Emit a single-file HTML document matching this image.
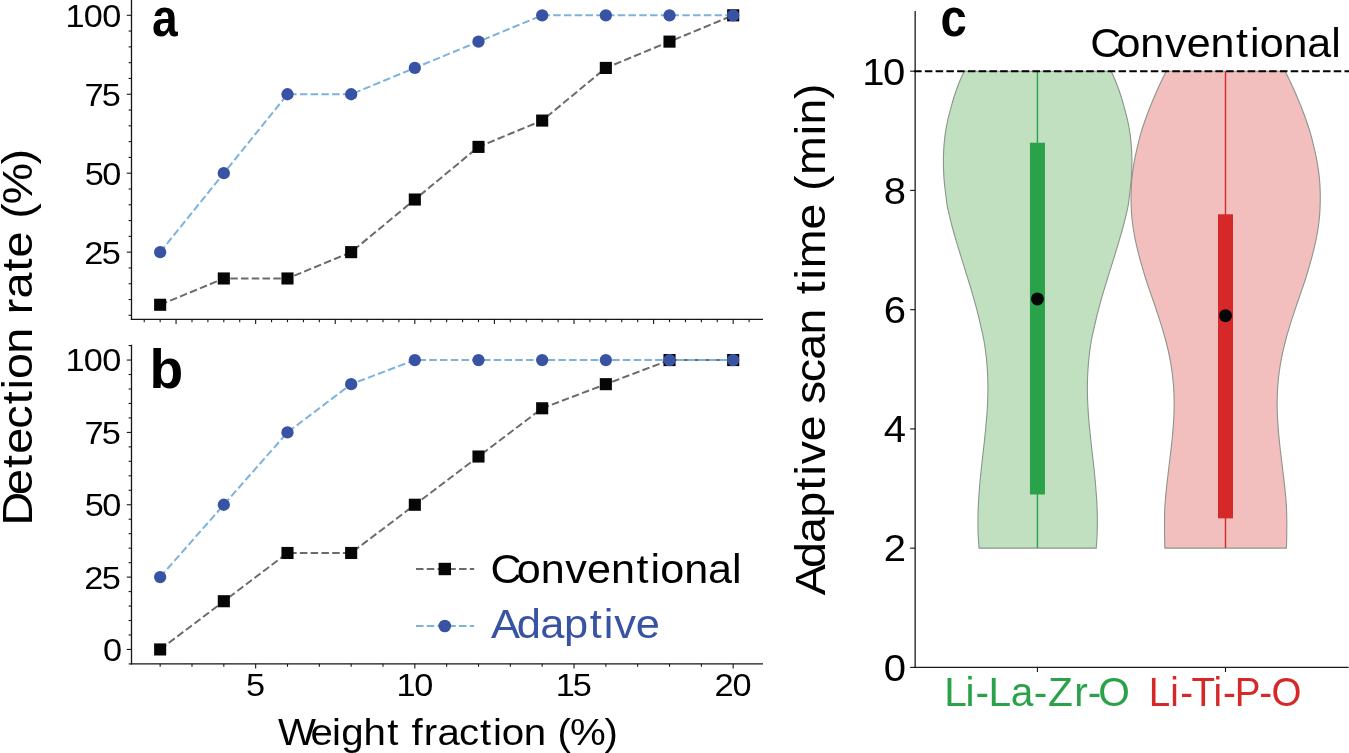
<!DOCTYPE html>
<html lang="en">
<head>
<meta charset="utf-8">
<title>Detection rate and adaptive scan time</title>
<style>
html,body{margin:0;padding:0;background:#fff;}
body{width:1349px;height:753px;overflow:hidden;font-family:"Liberation Sans",sans-serif;}
svg{display:block;will-change:transform;}
svg text{font-family:"Liberation Sans",sans-serif;}
</style>
</head>
<body>
<svg width="1349" height="753" viewBox="0 0 1349 753">
<rect x="0" y="0" width="1349" height="753" fill="#fff"/>
<g id="axes-left">
<line x1="131.50" y1="0.00" x2="131.50" y2="319.95" stroke="#161616" stroke-width="1.3"/>
<line x1="130.85" y1="319.30" x2="763.00" y2="319.30" stroke="#161616" stroke-width="1.3"/>
<line x1="131.50" y1="344.80" x2="131.50" y2="664.50" stroke="#161616" stroke-width="1.3"/>
<line x1="130.85" y1="663.85" x2="763.00" y2="663.85" stroke="#161616" stroke-width="1.3"/>
<line x1="128.60" y1="315.31" x2="131.50" y2="315.31" stroke="#161616" stroke-width="1.1"/>
<line x1="128.60" y1="299.52" x2="131.50" y2="299.52" stroke="#161616" stroke-width="1.1"/>
<line x1="128.60" y1="283.73" x2="131.50" y2="283.73" stroke="#161616" stroke-width="1.1"/>
<line x1="128.60" y1="267.94" x2="131.50" y2="267.94" stroke="#161616" stroke-width="1.1"/>
<line x1="126.80" y1="252.15" x2="131.50" y2="252.15" stroke="#161616" stroke-width="1.1"/>
<line x1="128.60" y1="236.36" x2="131.50" y2="236.36" stroke="#161616" stroke-width="1.1"/>
<line x1="128.60" y1="220.57" x2="131.50" y2="220.57" stroke="#161616" stroke-width="1.1"/>
<line x1="128.60" y1="204.78" x2="131.50" y2="204.78" stroke="#161616" stroke-width="1.1"/>
<line x1="128.60" y1="188.99" x2="131.50" y2="188.99" stroke="#161616" stroke-width="1.1"/>
<line x1="126.80" y1="173.20" x2="131.50" y2="173.20" stroke="#161616" stroke-width="1.1"/>
<line x1="128.60" y1="157.41" x2="131.50" y2="157.41" stroke="#161616" stroke-width="1.1"/>
<line x1="128.60" y1="141.62" x2="131.50" y2="141.62" stroke="#161616" stroke-width="1.1"/>
<line x1="128.60" y1="125.83" x2="131.50" y2="125.83" stroke="#161616" stroke-width="1.1"/>
<line x1="128.60" y1="110.04" x2="131.50" y2="110.04" stroke="#161616" stroke-width="1.1"/>
<line x1="126.80" y1="94.25" x2="131.50" y2="94.25" stroke="#161616" stroke-width="1.1"/>
<line x1="128.60" y1="78.46" x2="131.50" y2="78.46" stroke="#161616" stroke-width="1.1"/>
<line x1="128.60" y1="62.67" x2="131.50" y2="62.67" stroke="#161616" stroke-width="1.1"/>
<line x1="128.60" y1="46.88" x2="131.50" y2="46.88" stroke="#161616" stroke-width="1.1"/>
<line x1="128.60" y1="31.09" x2="131.50" y2="31.09" stroke="#161616" stroke-width="1.1"/>
<line x1="126.80" y1="15.30" x2="131.50" y2="15.30" stroke="#161616" stroke-width="1.1"/>
<line x1="128.60" y1="663.92" x2="131.50" y2="663.92" stroke="#161616" stroke-width="1.1"/>
<line x1="126.80" y1="649.45" x2="131.50" y2="649.45" stroke="#161616" stroke-width="1.1"/>
<line x1="128.60" y1="634.98" x2="131.50" y2="634.98" stroke="#161616" stroke-width="1.1"/>
<line x1="128.60" y1="620.51" x2="131.50" y2="620.51" stroke="#161616" stroke-width="1.1"/>
<line x1="128.60" y1="606.04" x2="131.50" y2="606.04" stroke="#161616" stroke-width="1.1"/>
<line x1="128.60" y1="591.57" x2="131.50" y2="591.57" stroke="#161616" stroke-width="1.1"/>
<line x1="126.80" y1="577.10" x2="131.50" y2="577.10" stroke="#161616" stroke-width="1.1"/>
<line x1="128.60" y1="562.63" x2="131.50" y2="562.63" stroke="#161616" stroke-width="1.1"/>
<line x1="128.60" y1="548.16" x2="131.50" y2="548.16" stroke="#161616" stroke-width="1.1"/>
<line x1="128.60" y1="533.69" x2="131.50" y2="533.69" stroke="#161616" stroke-width="1.1"/>
<line x1="128.60" y1="519.22" x2="131.50" y2="519.22" stroke="#161616" stroke-width="1.1"/>
<line x1="126.80" y1="504.75" x2="131.50" y2="504.75" stroke="#161616" stroke-width="1.1"/>
<line x1="128.60" y1="490.28" x2="131.50" y2="490.28" stroke="#161616" stroke-width="1.1"/>
<line x1="128.60" y1="475.81" x2="131.50" y2="475.81" stroke="#161616" stroke-width="1.1"/>
<line x1="128.60" y1="461.34" x2="131.50" y2="461.34" stroke="#161616" stroke-width="1.1"/>
<line x1="128.60" y1="446.87" x2="131.50" y2="446.87" stroke="#161616" stroke-width="1.1"/>
<line x1="126.80" y1="432.40" x2="131.50" y2="432.40" stroke="#161616" stroke-width="1.1"/>
<line x1="128.60" y1="417.93" x2="131.50" y2="417.93" stroke="#161616" stroke-width="1.1"/>
<line x1="128.60" y1="403.46" x2="131.50" y2="403.46" stroke="#161616" stroke-width="1.1"/>
<line x1="128.60" y1="388.99" x2="131.50" y2="388.99" stroke="#161616" stroke-width="1.1"/>
<line x1="128.60" y1="374.52" x2="131.50" y2="374.52" stroke="#161616" stroke-width="1.1"/>
<line x1="126.80" y1="360.05" x2="131.50" y2="360.05" stroke="#161616" stroke-width="1.1"/>
<line x1="128.60" y1="345.58" x2="131.50" y2="345.58" stroke="#161616" stroke-width="1.1"/>
<line x1="144.23" y1="319.30" x2="144.23" y2="322.20" stroke="#161616" stroke-width="1.1"/>
<line x1="160.15" y1="319.30" x2="160.15" y2="322.20" stroke="#161616" stroke-width="1.1"/>
<line x1="176.07" y1="319.30" x2="176.07" y2="324.00" stroke="#161616" stroke-width="1.1"/>
<line x1="191.99" y1="319.30" x2="191.99" y2="322.20" stroke="#161616" stroke-width="1.1"/>
<line x1="207.90" y1="319.30" x2="207.90" y2="322.20" stroke="#161616" stroke-width="1.1"/>
<line x1="223.82" y1="319.30" x2="223.82" y2="322.20" stroke="#161616" stroke-width="1.1"/>
<line x1="239.74" y1="319.30" x2="239.74" y2="322.20" stroke="#161616" stroke-width="1.1"/>
<line x1="255.66" y1="319.30" x2="255.66" y2="324.00" stroke="#161616" stroke-width="1.1"/>
<line x1="271.57" y1="319.30" x2="271.57" y2="322.20" stroke="#161616" stroke-width="1.1"/>
<line x1="287.49" y1="319.30" x2="287.49" y2="322.20" stroke="#161616" stroke-width="1.1"/>
<line x1="303.41" y1="319.30" x2="303.41" y2="322.20" stroke="#161616" stroke-width="1.1"/>
<line x1="319.33" y1="319.30" x2="319.33" y2="322.20" stroke="#161616" stroke-width="1.1"/>
<line x1="335.24" y1="319.30" x2="335.24" y2="324.00" stroke="#161616" stroke-width="1.1"/>
<line x1="351.16" y1="319.30" x2="351.16" y2="322.20" stroke="#161616" stroke-width="1.1"/>
<line x1="367.08" y1="319.30" x2="367.08" y2="322.20" stroke="#161616" stroke-width="1.1"/>
<line x1="383.00" y1="319.30" x2="383.00" y2="322.20" stroke="#161616" stroke-width="1.1"/>
<line x1="398.91" y1="319.30" x2="398.91" y2="322.20" stroke="#161616" stroke-width="1.1"/>
<line x1="414.83" y1="319.30" x2="414.83" y2="324.00" stroke="#161616" stroke-width="1.1"/>
<line x1="430.75" y1="319.30" x2="430.75" y2="322.20" stroke="#161616" stroke-width="1.1"/>
<line x1="446.66" y1="319.30" x2="446.66" y2="322.20" stroke="#161616" stroke-width="1.1"/>
<line x1="462.58" y1="319.30" x2="462.58" y2="322.20" stroke="#161616" stroke-width="1.1"/>
<line x1="478.50" y1="319.30" x2="478.50" y2="322.20" stroke="#161616" stroke-width="1.1"/>
<line x1="494.42" y1="319.30" x2="494.42" y2="324.00" stroke="#161616" stroke-width="1.1"/>
<line x1="510.34" y1="319.30" x2="510.34" y2="322.20" stroke="#161616" stroke-width="1.1"/>
<line x1="526.25" y1="319.30" x2="526.25" y2="322.20" stroke="#161616" stroke-width="1.1"/>
<line x1="542.17" y1="319.30" x2="542.17" y2="322.20" stroke="#161616" stroke-width="1.1"/>
<line x1="558.09" y1="319.30" x2="558.09" y2="322.20" stroke="#161616" stroke-width="1.1"/>
<line x1="574.00" y1="319.30" x2="574.00" y2="324.00" stroke="#161616" stroke-width="1.1"/>
<line x1="589.92" y1="319.30" x2="589.92" y2="322.20" stroke="#161616" stroke-width="1.1"/>
<line x1="605.84" y1="319.30" x2="605.84" y2="322.20" stroke="#161616" stroke-width="1.1"/>
<line x1="621.76" y1="319.30" x2="621.76" y2="322.20" stroke="#161616" stroke-width="1.1"/>
<line x1="637.68" y1="319.30" x2="637.68" y2="322.20" stroke="#161616" stroke-width="1.1"/>
<line x1="653.59" y1="319.30" x2="653.59" y2="324.00" stroke="#161616" stroke-width="1.1"/>
<line x1="669.51" y1="319.30" x2="669.51" y2="322.20" stroke="#161616" stroke-width="1.1"/>
<line x1="685.43" y1="319.30" x2="685.43" y2="322.20" stroke="#161616" stroke-width="1.1"/>
<line x1="701.35" y1="319.30" x2="701.35" y2="322.20" stroke="#161616" stroke-width="1.1"/>
<line x1="717.26" y1="319.30" x2="717.26" y2="322.20" stroke="#161616" stroke-width="1.1"/>
<line x1="733.18" y1="319.30" x2="733.18" y2="324.00" stroke="#161616" stroke-width="1.1"/>
<line x1="749.10" y1="319.30" x2="749.10" y2="322.20" stroke="#161616" stroke-width="1.1"/>
<line x1="160.15" y1="663.85" x2="160.15" y2="666.75" stroke="#161616" stroke-width="1.1"/>
<line x1="191.99" y1="663.85" x2="191.99" y2="666.75" stroke="#161616" stroke-width="1.1"/>
<line x1="223.82" y1="663.85" x2="223.82" y2="666.75" stroke="#161616" stroke-width="1.1"/>
<line x1="255.66" y1="663.85" x2="255.66" y2="668.55" stroke="#161616" stroke-width="1.1"/>
<line x1="287.49" y1="663.85" x2="287.49" y2="666.75" stroke="#161616" stroke-width="1.1"/>
<line x1="319.33" y1="663.85" x2="319.33" y2="666.75" stroke="#161616" stroke-width="1.1"/>
<line x1="351.16" y1="663.85" x2="351.16" y2="666.75" stroke="#161616" stroke-width="1.1"/>
<line x1="383.00" y1="663.85" x2="383.00" y2="666.75" stroke="#161616" stroke-width="1.1"/>
<line x1="414.83" y1="663.85" x2="414.83" y2="668.55" stroke="#161616" stroke-width="1.1"/>
<line x1="446.66" y1="663.85" x2="446.66" y2="666.75" stroke="#161616" stroke-width="1.1"/>
<line x1="478.50" y1="663.85" x2="478.50" y2="666.75" stroke="#161616" stroke-width="1.1"/>
<line x1="510.34" y1="663.85" x2="510.34" y2="666.75" stroke="#161616" stroke-width="1.1"/>
<line x1="542.17" y1="663.85" x2="542.17" y2="666.75" stroke="#161616" stroke-width="1.1"/>
<line x1="574.00" y1="663.85" x2="574.00" y2="668.55" stroke="#161616" stroke-width="1.1"/>
<line x1="605.84" y1="663.85" x2="605.84" y2="666.75" stroke="#161616" stroke-width="1.1"/>
<line x1="637.68" y1="663.85" x2="637.68" y2="666.75" stroke="#161616" stroke-width="1.1"/>
<line x1="669.51" y1="663.85" x2="669.51" y2="666.75" stroke="#161616" stroke-width="1.1"/>
<line x1="701.35" y1="663.85" x2="701.35" y2="666.75" stroke="#161616" stroke-width="1.1"/>
<line x1="733.18" y1="663.85" x2="733.18" y2="668.55" stroke="#161616" stroke-width="1.1"/>
</g>
<g id="ticklabels-left">
<text transform="translate(64.74,26.70) scale(1.0843,1)" x="0.67 17.60 34.68" y="0" font-size="31.65" fill="#000">100</text>
<text transform="translate(83.83,105.65) scale(1.0843,1)" x="0.63 16.52" y="0" font-size="31.65" fill="#000">75</text>
<text transform="translate(83.83,184.60) scale(1.0843,1)" x="0.80 17.07" y="0" font-size="31.65" fill="#000">50</text>
<text transform="translate(83.83,263.55) scale(1.0843,1)" x="0.49 16.52" y="0" font-size="31.65" fill="#000">25</text>
<text transform="translate(64.74,371.45) scale(1.0843,1)" x="0.67 17.60 34.68" y="0" font-size="31.65" fill="#000">100</text>
<text transform="translate(83.83,443.80) scale(1.0843,1)" x="0.63 16.52" y="0" font-size="31.65" fill="#000">75</text>
<text transform="translate(83.83,516.15) scale(1.0843,1)" x="0.80 17.07" y="0" font-size="31.65" fill="#000">50</text>
<text transform="translate(83.83,588.50) scale(1.0843,1)" x="0.49 16.52" y="0" font-size="31.65" fill="#000">25</text>
<text transform="translate(102.91,660.85) scale(1.0843,1)" x="0.00" y="0" font-size="31.65" fill="#000">0</text>
<text transform="translate(246.11,696.20) scale(1.0843,1)" x="0.00" y="0" font-size="31.65" fill="#000">5</text>
<text transform="translate(395.74,696.20) scale(1.0843,1)" x="0.67 17.07" y="0" font-size="31.65" fill="#000">10</text>
<text transform="translate(554.92,696.20) scale(1.0843,1)" x="0.67 16.52" y="0" font-size="31.65" fill="#000">15</text>
<text transform="translate(714.09,696.20) scale(1.0843,1)" x="0.49 17.07" y="0" font-size="31.65" fill="#000">20</text>
</g>
<g id="panel-a">
<polyline points="160.15,304.78 223.82,278.47 287.49,278.47 351.16,252.15 414.83,199.52 478.50,146.88 542.17,120.57 605.84,67.93 669.51,41.62 733.18,15.30" stroke="#6b6b6b" stroke-width="2.0" stroke-dasharray="7.51 3.25" fill="none"/>
<rect x="154.10" y="298.73" width="12.1" height="12.1" fill="#050707"/>
<rect x="217.77" y="272.42" width="12.1" height="12.1" fill="#050707"/>
<rect x="281.44" y="272.42" width="12.1" height="12.1" fill="#050707"/>
<rect x="345.11" y="246.10" width="12.1" height="12.1" fill="#050707"/>
<rect x="408.78" y="193.47" width="12.1" height="12.1" fill="#050707"/>
<rect x="472.45" y="140.83" width="12.1" height="12.1" fill="#050707"/>
<rect x="536.12" y="114.52" width="12.1" height="12.1" fill="#050707"/>
<rect x="599.79" y="61.88" width="12.1" height="12.1" fill="#050707"/>
<rect x="663.46" y="35.57" width="12.1" height="12.1" fill="#050707"/>
<rect x="727.13" y="9.25" width="12.1" height="12.1" fill="#050707"/>
<polyline points="160.15,252.15 223.82,173.20 287.49,94.25 351.16,94.25 414.83,67.93 478.50,41.62 542.17,15.30 605.84,15.30 669.51,15.30 733.18,15.30" stroke="#7db3da" stroke-width="2.0" stroke-dasharray="7.51 3.25" fill="none"/>
<circle cx="160.15" cy="252.15" r="6.15" fill="#3953a4"/>
<circle cx="223.82" cy="173.20" r="6.15" fill="#3953a4"/>
<circle cx="287.49" cy="94.25" r="6.15" fill="#3953a4"/>
<circle cx="351.16" cy="94.25" r="6.15" fill="#3953a4"/>
<circle cx="414.83" cy="67.93" r="6.15" fill="#3953a4"/>
<circle cx="478.50" cy="41.62" r="6.15" fill="#3953a4"/>
<circle cx="542.17" cy="15.30" r="6.15" fill="#3953a4"/>
<circle cx="605.84" cy="15.30" r="6.15" fill="#3953a4"/>
<circle cx="669.51" cy="15.30" r="6.15" fill="#3953a4"/>
<circle cx="733.18" cy="15.30" r="6.15" fill="#3953a4"/>
</g>
<g id="panel-b">
<polyline points="160.15,649.45 223.82,601.22 287.49,552.98 351.16,552.98 414.83,504.75 478.50,456.52 542.17,408.28 605.84,384.17 669.51,360.05 733.18,360.05" stroke="#6b6b6b" stroke-width="2.0" stroke-dasharray="7.51 3.25" fill="none"/>
<rect x="154.10" y="643.40" width="12.1" height="12.1" fill="#050707"/>
<rect x="217.77" y="595.17" width="12.1" height="12.1" fill="#050707"/>
<rect x="281.44" y="546.93" width="12.1" height="12.1" fill="#050707"/>
<rect x="345.11" y="546.93" width="12.1" height="12.1" fill="#050707"/>
<rect x="408.78" y="498.70" width="12.1" height="12.1" fill="#050707"/>
<rect x="472.45" y="450.47" width="12.1" height="12.1" fill="#050707"/>
<rect x="536.12" y="402.23" width="12.1" height="12.1" fill="#050707"/>
<rect x="599.79" y="378.12" width="12.1" height="12.1" fill="#050707"/>
<rect x="663.46" y="354.00" width="12.1" height="12.1" fill="#050707"/>
<rect x="727.13" y="354.00" width="12.1" height="12.1" fill="#050707"/>
<polyline points="160.15,577.10 223.82,504.75 287.49,432.40 351.16,384.17 414.83,360.05 478.50,360.05 542.17,360.05 605.84,360.05 669.51,360.05 733.18,360.05" stroke="#7db3da" stroke-width="2.0" stroke-dasharray="7.51 3.25" fill="none"/>
<circle cx="160.15" cy="577.10" r="6.15" fill="#3953a4"/>
<circle cx="223.82" cy="504.75" r="6.15" fill="#3953a4"/>
<circle cx="287.49" cy="432.40" r="6.15" fill="#3953a4"/>
<circle cx="351.16" cy="384.17" r="6.15" fill="#3953a4"/>
<circle cx="414.83" cy="360.05" r="6.15" fill="#3953a4"/>
<circle cx="478.50" cy="360.05" r="6.15" fill="#3953a4"/>
<circle cx="542.17" cy="360.05" r="6.15" fill="#3953a4"/>
<circle cx="605.84" cy="360.05" r="6.15" fill="#3953a4"/>
<circle cx="669.51" cy="360.05" r="6.15" fill="#3953a4"/>
<circle cx="733.18" cy="360.05" r="6.15" fill="#3953a4"/>
</g>
<g id="legend">
<line x1="416" y1="569" x2="474.2" y2="569" stroke="#6b6b6b" stroke-width="2.0" stroke-dasharray="7.51 3.25" fill="none"/>
<rect x="438.60" y="562.80" width="12.4" height="12.4" fill="#050707"/>
<line x1="416" y1="626" x2="474.2" y2="626" stroke="#7db3da" stroke-width="2.0" stroke-dasharray="7.51 3.25" fill="none"/>
<circle cx="444.8" cy="626" r="6.3" fill="#3953a4"/>
<text transform="translate(490.50,582.50) scale(1.0702,1)" x="-0.06 24.64 46.87 69.87 90.28 112.58 136.50 149.57 158.72 180.95 203.20 225.70" y="0" font-size="40.30" fill="#000">Conventional</text>
<text transform="translate(490.90,638.00) scale(1.0779,1)" x="0.15 23.97 45.76 67.87 91.67 104.67 114.48 134.33" y="0" font-size="40.30" fill="#3953a4">Adaptive</text>
</g>
<text transform="translate(277.10,745.00) scale(1.0827,1)" x="0.95 30.87 50.63 59.26 79.89 101.73 113.27 124.16 135.54 148.05 167.99 187.43 199.35 207.61 227.86 248.49 258.98 270.44 302.29" y="0" font-size="37.14" fill="#000">Weight fraction (%)</text>
<text transform="translate(31.80,525.90) rotate(-90) scale(1.0886,1)" x="0.31 28.42 53.28 66.17 89.21 111.64 125.40 134.88 158.22 182.04 194.52 208.90 233.73 246.61 270.09 282.17 295.32 332.07" y="0" font-size="43.04" fill="#000">Detection rate (%)</text>
<text transform="translate(152.01,36.30) scale(0.874,1)" font-size="52.9" font-weight="700" fill="#000">a</text>
<text transform="translate(149.51,388.00) scale(0.986,1)" font-size="56.0" font-weight="700" fill="#000">b</text>
<text transform="translate(940.51,36.40) scale(0.889,1)" font-size="53.1" font-weight="700" fill="#000">c</text>
<g id="panel-c">
<path d="M964.15,71.20 C963.28,73.22 960.54,79.25 958.93,83.30 C957.32,87.35 955.84,91.42 954.51,95.50 C953.18,99.58 952.08,103.72 950.96,107.80 C949.84,111.88 948.70,115.93 947.79,120.00 C946.88,124.07 946.11,128.13 945.49,132.20 C944.88,136.27 944.44,140.32 944.10,144.40 C943.76,148.48 943.55,152.62 943.45,156.70 C943.36,160.78 943.41,164.83 943.53,168.90 C943.66,172.97 943.86,177.03 944.20,181.10 C944.54,185.17 945.10,189.22 945.59,193.30 C946.09,197.38 946.45,201.52 947.17,205.60 C947.89,209.68 948.93,213.73 949.92,217.80 C950.91,221.87 951.98,225.93 953.09,230.00 C954.20,234.07 955.38,238.13 956.58,242.20 C957.78,246.27 959.04,250.32 960.29,254.40 C961.55,258.48 962.84,262.62 964.11,266.70 C965.38,270.78 966.67,274.83 967.93,278.90 C969.19,282.97 970.45,287.03 971.65,291.10 C972.86,295.17 974.04,299.22 975.16,303.30 C976.28,307.38 977.37,311.52 978.37,315.60 C979.37,319.68 980.27,323.73 981.18,327.80 C982.10,331.87 983.11,335.93 983.86,340.00 C984.61,344.07 985.17,348.12 985.69,352.20 C986.21,356.28 986.63,360.42 986.97,364.50 C987.31,368.58 987.55,372.63 987.71,376.70 C987.87,380.77 987.94,384.83 987.93,388.90 C987.92,392.97 987.83,397.03 987.67,401.10 C987.51,405.17 987.27,409.22 986.99,413.30 C986.71,417.38 986.36,421.52 985.99,425.60 C985.62,429.68 985.18,433.73 984.75,437.80 C984.32,441.87 983.86,445.93 983.40,450.00 C982.95,454.07 982.47,458.12 982.02,462.20 C981.57,466.28 981.13,470.42 980.72,474.50 C980.31,478.58 979.92,482.63 979.58,486.70 C979.24,490.77 978.94,494.83 978.69,498.90 C978.45,502.97 978.24,507.02 978.11,511.10 C977.99,515.18 977.92,519.32 977.94,523.40 C977.96,527.48 978.04,531.48 978.22,535.60 C978.40,539.72 978.90,546.02 979.03,548.10 L1096.27,548.10 C1096.40,546.02 1096.90,539.72 1097.08,535.60 C1097.26,531.48 1097.34,527.48 1097.36,523.40 C1097.38,519.32 1097.32,515.18 1097.19,511.10 C1097.07,507.02 1096.86,502.97 1096.61,498.90 C1096.37,494.83 1096.06,490.77 1095.72,486.70 C1095.38,482.63 1094.99,478.58 1094.58,474.50 C1094.17,470.42 1093.73,466.28 1093.28,462.20 C1092.83,458.12 1092.36,454.07 1091.90,450.00 C1091.45,445.93 1090.98,441.87 1090.55,437.80 C1090.12,433.73 1089.68,429.68 1089.31,425.60 C1088.94,421.52 1088.59,417.38 1088.31,413.30 C1088.03,409.22 1087.79,405.17 1087.63,401.10 C1087.47,397.03 1087.38,392.97 1087.37,388.90 C1087.36,384.83 1087.43,380.77 1087.59,376.70 C1087.75,372.63 1087.99,368.58 1088.33,364.50 C1088.67,360.42 1089.09,356.28 1089.61,352.20 C1090.13,348.12 1090.69,344.07 1091.44,340.00 C1092.19,335.93 1093.21,331.87 1094.12,327.80 C1095.04,323.73 1095.93,319.68 1096.93,315.60 C1097.93,311.52 1099.02,307.38 1100.14,303.30 C1101.26,299.22 1102.45,295.17 1103.65,291.10 C1104.86,287.03 1106.11,282.97 1107.37,278.90 C1108.63,274.83 1109.92,270.78 1111.19,266.70 C1112.46,262.62 1113.76,258.48 1115.01,254.40 C1116.26,250.32 1117.52,246.27 1118.72,242.20 C1119.92,238.13 1121.10,234.07 1122.21,230.00 C1123.32,225.93 1124.39,221.87 1125.38,217.80 C1126.37,213.73 1127.41,209.68 1128.13,205.60 C1128.85,201.52 1129.22,197.38 1129.71,193.30 C1130.20,189.22 1130.76,185.17 1131.10,181.10 C1131.44,177.03 1131.64,172.97 1131.77,168.90 C1131.89,164.83 1131.95,160.78 1131.85,156.70 C1131.76,152.62 1131.54,148.48 1131.20,144.40 C1130.86,140.32 1130.43,136.27 1129.81,132.20 C1129.20,128.13 1128.42,124.07 1127.51,120.00 C1126.60,115.93 1125.46,111.88 1124.34,107.80 C1123.22,103.72 1122.12,99.58 1120.79,95.50 C1119.46,91.42 1117.98,87.35 1116.37,83.30 C1114.76,79.25 1112.02,73.22 1111.15,71.20 Z" fill="#c0e0c0" stroke="#8a968b" stroke-width="1.1" stroke-linejoin="round"/>
<path d="M1166.21,71.20 C1165.23,73.22 1162.24,79.25 1160.34,83.30 C1158.45,87.35 1156.60,91.42 1154.84,95.50 C1153.08,99.58 1151.38,103.72 1149.77,107.80 C1148.16,111.88 1146.63,115.93 1145.20,120.00 C1143.77,124.07 1142.37,128.13 1141.17,132.20 C1139.97,136.27 1138.99,140.32 1137.99,144.40 C1136.99,148.48 1136.01,152.62 1135.19,156.70 C1134.37,160.78 1133.66,164.83 1133.07,168.90 C1132.48,172.97 1131.98,177.03 1131.65,181.10 C1131.32,185.17 1131.16,189.22 1131.08,193.30 C1131.00,197.38 1131.02,201.52 1131.16,205.60 C1131.30,209.68 1131.51,213.73 1131.90,217.80 C1132.29,221.87 1132.84,225.93 1133.48,230.00 C1134.12,234.07 1134.90,238.13 1135.77,242.20 C1136.64,246.27 1137.62,250.32 1138.68,254.40 C1139.74,258.48 1140.95,262.62 1142.12,266.70 C1143.30,270.78 1144.44,274.83 1145.73,278.90 C1147.02,282.97 1148.47,287.03 1149.86,291.10 C1151.25,295.17 1152.69,299.22 1154.09,303.30 C1155.49,307.38 1156.90,311.52 1158.24,315.60 C1159.58,319.68 1160.90,323.73 1162.13,327.80 C1163.36,331.87 1164.54,335.93 1165.61,340.00 C1166.68,344.07 1167.68,348.12 1168.57,352.20 C1169.46,356.28 1170.26,360.42 1170.94,364.50 C1171.62,368.58 1172.20,372.63 1172.66,376.70 C1173.12,380.77 1173.47,384.83 1173.72,388.90 C1173.97,392.97 1174.11,397.03 1174.15,401.10 C1174.20,405.17 1174.13,409.22 1173.99,413.30 C1173.85,417.38 1173.61,421.52 1173.32,425.60 C1173.03,429.68 1172.66,433.73 1172.27,437.80 C1171.88,441.87 1171.42,445.93 1170.96,450.00 C1170.50,454.07 1169.99,458.12 1169.50,462.20 C1169.01,466.28 1168.49,470.42 1168.01,474.50 C1167.53,478.58 1167.04,482.63 1166.61,486.70 C1166.18,490.77 1165.75,494.83 1165.43,498.90 C1165.11,502.97 1164.85,507.02 1164.69,511.10 C1164.53,515.18 1164.51,519.32 1164.49,523.40 C1164.47,527.48 1164.50,531.48 1164.56,535.60 C1164.62,539.72 1164.80,546.02 1164.85,548.10 L1286.45,548.10 C1286.50,546.02 1286.68,539.72 1286.74,535.60 C1286.80,531.48 1286.83,527.48 1286.81,523.40 C1286.79,519.32 1286.77,515.18 1286.61,511.10 C1286.45,507.02 1286.19,502.97 1285.87,498.90 C1285.55,494.83 1285.12,490.77 1284.69,486.70 C1284.26,482.63 1283.77,478.58 1283.29,474.50 C1282.81,470.42 1282.29,466.28 1281.80,462.20 C1281.31,458.12 1280.80,454.07 1280.34,450.00 C1279.88,445.93 1279.42,441.87 1279.03,437.80 C1278.64,433.73 1278.27,429.68 1277.98,425.60 C1277.69,421.52 1277.45,417.38 1277.31,413.30 C1277.17,409.22 1277.11,405.17 1277.15,401.10 C1277.20,397.03 1277.33,392.97 1277.58,388.90 C1277.83,384.83 1278.18,380.77 1278.64,376.70 C1279.10,372.63 1279.68,368.58 1280.36,364.50 C1281.04,360.42 1281.84,356.28 1282.73,352.20 C1283.62,348.12 1284.62,344.07 1285.69,340.00 C1286.76,335.93 1287.94,331.87 1289.17,327.80 C1290.40,323.73 1291.72,319.68 1293.06,315.60 C1294.40,311.52 1295.81,307.38 1297.21,303.30 C1298.61,299.22 1300.05,295.17 1301.44,291.10 C1302.83,287.03 1304.28,282.97 1305.57,278.90 C1306.86,274.83 1308.01,270.78 1309.18,266.70 C1310.36,262.62 1311.56,258.48 1312.62,254.40 C1313.68,250.32 1314.66,246.27 1315.53,242.20 C1316.40,238.13 1317.18,234.07 1317.82,230.00 C1318.47,225.93 1319.01,221.87 1319.40,217.80 C1319.79,213.73 1320.00,209.68 1320.14,205.60 C1320.28,201.52 1320.30,197.38 1320.22,193.30 C1320.14,189.22 1319.98,185.17 1319.65,181.10 C1319.32,177.03 1318.82,172.97 1318.23,168.90 C1317.64,164.83 1316.93,160.78 1316.11,156.70 C1315.29,152.62 1314.31,148.48 1313.31,144.40 C1312.31,140.32 1311.33,136.27 1310.13,132.20 C1308.93,128.13 1307.53,124.07 1306.10,120.00 C1304.67,115.93 1303.14,111.88 1301.53,107.80 C1299.92,103.72 1298.22,99.58 1296.46,95.50 C1294.70,91.42 1292.86,87.35 1290.96,83.30 C1289.07,79.25 1286.07,73.22 1285.09,71.20 Z" fill="#f2bebe" stroke="#8a968b" stroke-width="1.1" stroke-linejoin="round"/>
<line x1="1037.45" y1="71.20" x2="1037.45" y2="548.10" stroke="#2aa249" stroke-width="1.4"/>
<line x1="1225.50" y1="71.20" x2="1225.50" y2="548.10" stroke="#d62828" stroke-width="1.4"/>
<rect x="1029.95" y="142.74" width="15" height="351.76" fill="#2aa249"/>
<rect x="1218.00" y="214.29" width="15" height="304.06" fill="#d62828"/>
<circle cx="1037.45" cy="298.95" r="6.5" fill="#050707"/>
<circle cx="1225.50" cy="315.64" r="6.5" fill="#050707"/>
<line x1="915.15" y1="11.00" x2="915.15" y2="668.05" stroke="#1a1a1a" stroke-width="1.3"/>
<line x1="914.50" y1="667.40" x2="1348.60" y2="667.40" stroke="#1a1a1a" stroke-width="1.3"/>
<line x1="910.15" y1="667.40" x2="915.15" y2="667.40" stroke="#1a1a1a" stroke-width="1.15"/>
<line x1="910.15" y1="548.16" x2="915.15" y2="548.16" stroke="#1a1a1a" stroke-width="1.15"/>
<line x1="910.15" y1="428.92" x2="915.15" y2="428.92" stroke="#1a1a1a" stroke-width="1.15"/>
<line x1="910.15" y1="309.68" x2="915.15" y2="309.68" stroke="#1a1a1a" stroke-width="1.15"/>
<line x1="910.15" y1="190.44" x2="915.15" y2="190.44" stroke="#1a1a1a" stroke-width="1.15"/>
<line x1="910.15" y1="71.20" x2="915.15" y2="71.20" stroke="#1a1a1a" stroke-width="1.15"/>
<line x1="1037.45" y1="667.40" x2="1037.45" y2="672.00" stroke="#1a1a1a" stroke-width="1.15"/>
<line x1="1225.50" y1="667.40" x2="1225.50" y2="672.00" stroke="#1a1a1a" stroke-width="1.15"/>
<line x1="914.1" y1="71.2" x2="1349" y2="71.2" stroke="#000" stroke-width="2.03" stroke-dasharray="7.51 3.25"/>
<text transform="translate(883.73,680.70) scale(1.0843,1)" x="0.00" y="0" font-size="36.92" fill="#000">0</text>
<text transform="translate(883.73,561.46) scale(1.0843,1)" x="0.00" y="0" font-size="36.92" fill="#000">2</text>
<text transform="translate(883.73,442.22) scale(1.0843,1)" x="0.00" y="0" font-size="36.92" fill="#000">4</text>
<text transform="translate(883.73,322.98) scale(1.0843,1)" x="0.00" y="0" font-size="36.92" fill="#000">6</text>
<text transform="translate(883.73,203.74) scale(1.0843,1)" x="0.00" y="0" font-size="36.92" fill="#000">8</text>
<text transform="translate(861.46,84.50) scale(1.0843,1)" x="0.78 19.91" y="0" font-size="36.92" fill="#000">10</text>
<text transform="translate(1090.30,57.30) scale(1.0702,1)" x="-0.05 24.57 46.74 69.69 90.05 112.28 136.14 149.18 158.30 180.48 202.67 225.11" y="0" font-size="40.20" fill="#000">Conventional</text>
<text transform="translate(943.69,705.60) scale(1.0143,1)" x="0.54 21.62 31.36 44.09 66.00 88.72 102.74 128.85 142.11 152.43" y="0" font-size="40.09" fill="#2aa249">Li-La-Zr-O</text>
<text transform="translate(1147.99,705.60) scale(0.9623,1)" x="0.74 23.03 33.42 45.22 68.14 77.92 90.25 115.55 128.47" y="0" font-size="40.09" fill="#d62828">Li-Ti-P-O</text>
<text transform="translate(825.40,595.40) rotate(-90) scale(1.0872,1)" x="0.17 25.16 48.12 71.42 96.55 110.25 120.54 141.87 165.25 176.16 196.15 216.66 239.93 263.66 276.92 290.62 300.91 336.52 359.90 371.94 386.70 423.16 433.03 456.60" y="0" font-size="42.83" fill="#000">Adaptive scan time (min)</text>
</g>
</svg>
</body>
</html>
